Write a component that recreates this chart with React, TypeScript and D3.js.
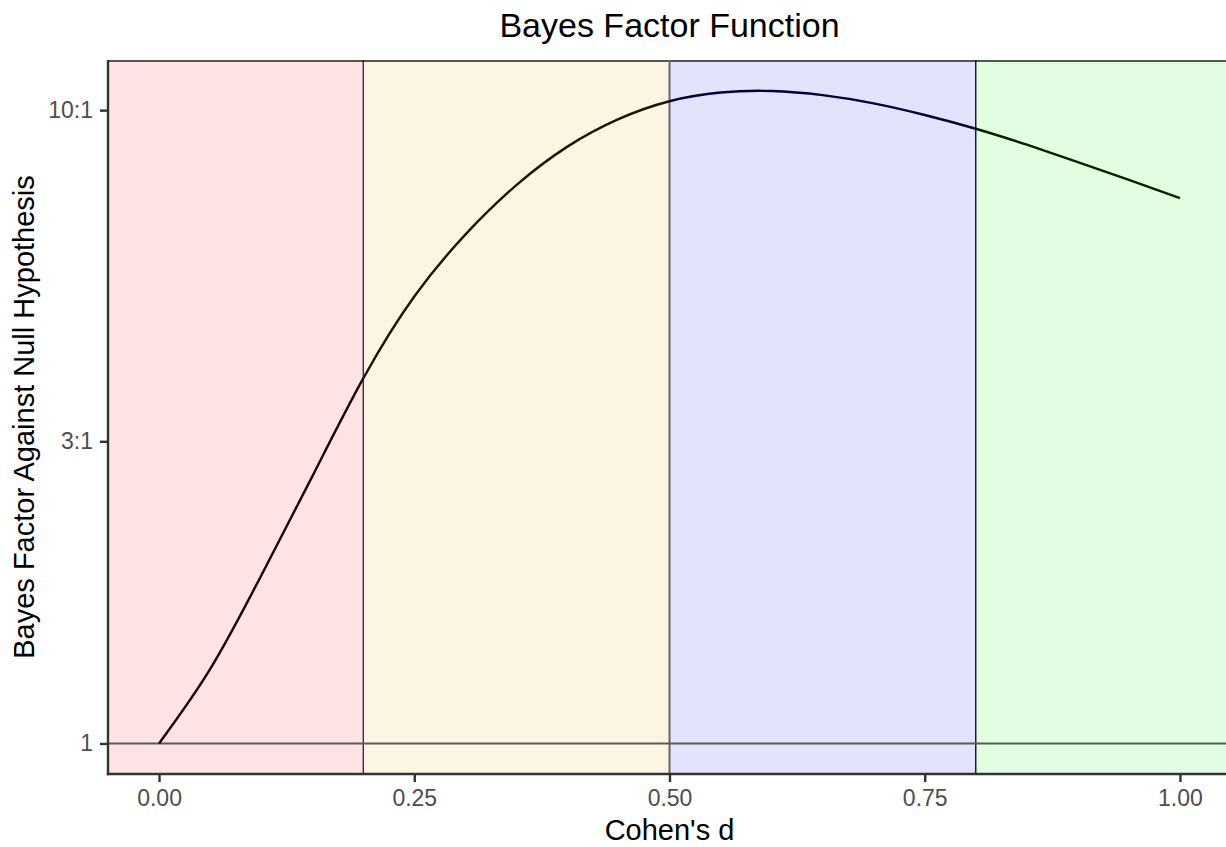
import React, { useRef, useEffect } from 'react';
import * as d3 from 'd3';

// Cohen's d grid and Bayes factor
const effectSizes = [0, 0.05, 0.1, 0.15, 0.2, 0.25, 0.3, 0.35, 0.4, 0.45, 0.5,
  0.55, 0.6, 0.65, 0.7, 0.75, 0.8, 0.85, 0.9, 0.95, 1.0];
const bayesFactors = [1.0, 1.31, 1.84, 2.638, 3.77, 5.078, 6.36, 7.614, 8.758, 9.679, 10.33,
  10.66, 10.72, 10.56, 10.25, 9.826, 9.346, 8.819, 8.281, 7.76, 7.265];

// shaded effect size bands
const bandStarts = [-Infinity, 0.2, 0.5, 0.8];
const bandEnds = [0.2, 0.5, 0.8, Infinity];
const bandFills = ['#FFE3E5', '#FDF5E4', '#E3E3FD', '#E3FDE3'];
const bandLineColors = ['#1E0000', '#1C1600', '#00003A', '#002200'];
const bandEdges = [0.2, 0.5, 0.8];
const bandEdgeColors = ['#000000', '#666666', '#000000'];
const bandEdgeWidths = [1.1, 2, 1.3];

const xTicks = [0, 0.25, 0.5, 0.75, 1.0];
const yTicks = [1, 3, 10];
const yTickLabels = ['1', '3:1', '10:1'];

const App = ({ width = 1226, height = 847 }) => {
  const svgRef = useRef(null);

  useEffect(() => {
    const svg = d3.select(svgRef.current)
      .attr('width', width)
      .attr('height', height);

    svg.selectAll('*').remove();

    const font = '"Liberation Sans", Arial, Helvetica, sans-serif';
    const left = 108, right = 1231, top = 60, bottom = 774;

    const xScale = d3.scaleLinear().domain([-0.05, 1.05]).range([left, right]);
    const yScale = d3.scaleLog().domain([0.8949, 12.0]).range([bottom, top]);

    const data = effectSizes.map((d, i) => ({ d, bf: bayesFactors[i] }));

    // bands
    const clampX = v => Math.max(left, Math.min(right, isFinite(v) ? xScale(v) : (v > 0 ? right : left)));
    const defs = svg.append('defs');
    bandStarts.forEach((s, i) => {
      const x0 = clampX(s);
      const x1 = clampX(bandEnds[i]);
      svg.append('rect')
        .attr('x', x0).attr('y', top)
        .attr('width', x1 - x0).attr('height', bottom - top)
        .attr('fill', bandFills[i]);
      defs.append('clipPath').attr('id', `band-${i}`)
        .append('rect')
        .attr('x', x0).attr('y', top - 10)
        .attr('width', x1 - x0).attr('height', bottom - top + 20);
    });

    // top edge of bands
    svg.append('line')
      .attr('x1', left).attr('x2', right)
      .attr('y1', top + 1).attr('y2', top + 1)
      .attr('stroke', '#555').attr('stroke-width', 2);

    // band boundaries
    svg.selectAll('.edge')
      .data(bandEdges)
      .enter()
      .append('line')
      .attr('class', 'edge')
      .attr('x1', d => xScale(d)).attr('x2', d => xScale(d))
      .attr('y1', top).attr('y2', bottom)
      .attr('stroke', (d, i) => bandEdgeColors[i])
      .attr('stroke-width', (d, i) => bandEdgeWidths[i]);

    // reference line at BF = 1
    svg.append('line')
      .attr('x1', left).attr('x2', right)
      .attr('y1', yScale(1)).attr('y2', yScale(1))
      .attr('stroke', '#5A5A5A').attr('stroke-width', 2);

    // curve, coloured per band
    const line = d3.line()
      .x(p => xScale(p.d))
      .y(p => yScale(p.bf))
      .curve(d3.curveNatural);

    bandLineColors.forEach((c, i) => {
      svg.append('path')
        .datum(data)
        .attr('clip-path', `url(#band-${i})`)
        .attr('d', line)
        .attr('fill', 'none')
        .attr('stroke', c)
        .attr('stroke-width', 2.4);
    });

    // x axis
    const xAxis = svg.append('g')
      .attr('transform', `translate(0, ${bottom})`)
      .call(d3.axisBottom(xScale).tickValues(xTicks).tickFormat(d3.format('.2f')).tickSizeOuter(0).tickSize(8).tickPadding(8));
    xAxis.select('.domain').attr('stroke', '#333').attr('stroke-width', 2.4)
      .attr('d', `M${left - 1.2},0H${right}`);
    xAxis.selectAll('.tick line').attr('stroke', '#333').attr('stroke-width', 2.4);
    xAxis.selectAll('.tick text')
      .attr('fill', '#4D4D4D').attr('font-size', 23).attr('font-family', font);

    // y axis
    const yAxis = svg.append('g')
      .attr('transform', `translate(${left}, 0)`)
      .call(d3.axisLeft(yScale).tickValues(yTicks).tickFormat((d, i) => yTickLabels[i]).tickSizeOuter(0).tickSize(8).tickPadding(7));
    yAxis.select('.domain').attr('stroke', '#333').attr('stroke-width', 2.4)
      .attr('d', `M0,${top}V${bottom + 1.2}`);
    yAxis.selectAll('.tick line').attr('stroke', '#333').attr('stroke-width', 2.4);
    yAxis.selectAll('.tick text')
      .attr('fill', '#4D4D4D').attr('font-size', 23).attr('font-family', font);

    // titles
    svg.append('text')
      .attr('x', (left + right) / 2).attr('y', 37)
      .attr('text-anchor', 'middle')
      .attr('font-family', font).attr('font-size', 34)
      .attr('fill', '#000')
      .text('Bayes Factor Function');

    svg.append('text')
      .attr('x', (left + right) / 2).attr('y', 840)
      .attr('text-anchor', 'middle')
      .attr('font-family', font).attr('font-size', 29)
      .attr('fill', '#000')
      .text("Cohen's d");

    svg.append('text')
      .attr('transform', `translate(34, ${(top + bottom) / 2}) rotate(-90)`)
      .attr('text-anchor', 'middle')
      .attr('font-family', font).attr('font-size', 29)
      .attr('fill', '#000')
      .text('Bayes Factor Against Null Hypothesis');
  }, [width, height]);

  return (
    <svg ref={svgRef} style={{ position: 'absolute', left: 0, top: 0, background: '#fff' }}></svg>
  );
};

export default App;
